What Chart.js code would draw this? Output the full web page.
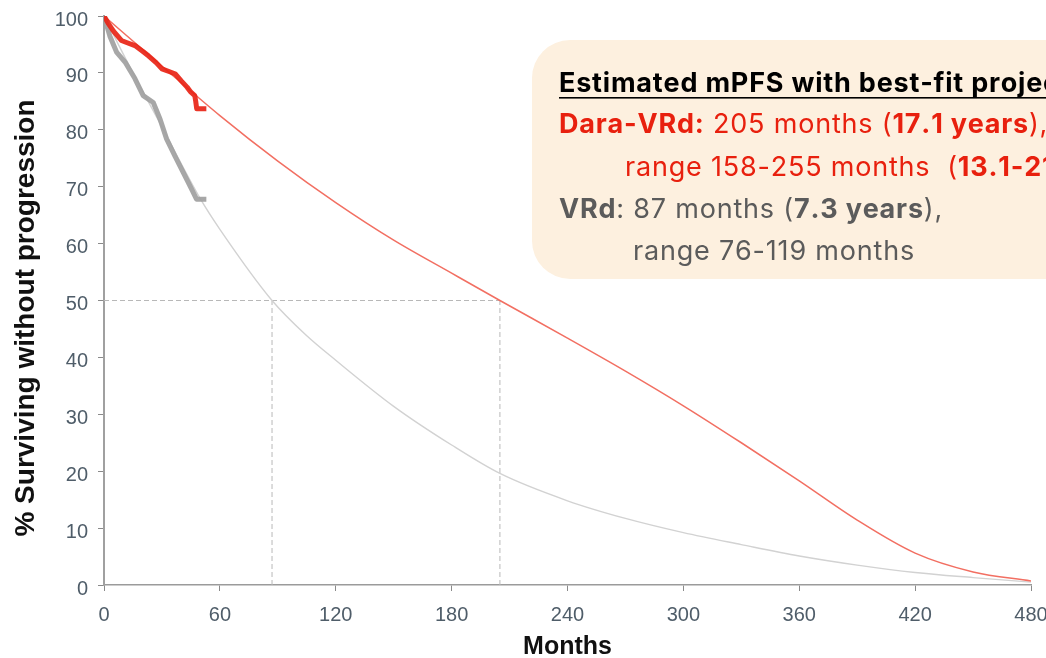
<!DOCTYPE html>
<html>
<head>
<meta charset="utf-8">
<title>Progression-free survival projection</title>
<script src="https://cdn.jsdelivr.net/npm/chart.js@4.4.1/dist/chart.umd.min.js"></script>
<style>
  html, body { margin: 0; padding: 0; background: #ffffff; }
  #wrap { width: 1046px; height: 658px; position: relative; overflow: hidden; }
</style>
</head>
<body>
<div id="wrap"><canvas id="pfs" width="1046" height="658"></canvas></div>
<script>
// Observed Kaplan-Meier estimates (months, % progression-free)
const daraKmMonths = [0, 2, 5, 9, 12, 16, 20, 23, 27, 30, 34, 37, 40, 43, 45, 47, 47.5, 48, 53];
const daraKmSurv   = [100, 98.8, 97.3, 95.7, 95.3, 94.8, 93.8, 93, 91.8, 90.7, 90.2, 89.8, 88.6, 87.5, 86.6, 86, 85, 83.7, 83.7];
const vrdKmMonths  = [0, 3, 6.6, 10.9, 16, 20.3, 25.5, 29, 32.4, 36.7, 41, 45.3, 47.9, 53];
const vrdKmSurv    = [100, 96.5, 93.6, 91.9, 89, 86, 84.8, 81.9, 78.4, 75.4, 72.5, 69.6, 67.8, 67.8];

// Best-fit parametric projections
const daraFitMonths = [0, 30, 60, 90, 120, 150, 180, 205, 240, 270, 300, 330, 360, 390, 420, 450, 480];
const daraFitSurv   = [100, 91.2, 82.5, 74.5, 67.2, 60.6, 54.8, 50, 43.4, 37.6, 31.5, 25.0, 18.3, 11.4, 5.6, 2.3, 0.7];
const vrdFitMonths  = [0, 15, 30, 50, 60, 87, 105, 120, 150, 180, 205, 240, 270, 300, 330, 360, 390, 420, 450, 480];
const vrdFitSurv    = [100, 90, 80.5, 67.8, 62.5, 50, 43.8, 39.5, 31.4, 24.6, 19.6, 14.8, 11.7, 9.2, 7.1, 5.1, 3.5, 2.2, 1.3, 0.5];

// Median PFS markers
const medianLevel = 50;
const daraMedian = 205;
const vrdMedian = 87;

// Axis ticks
const xTicks = [0, 60, 120, 180, 240, 300, 360, 420, 480];
const yTicks = [0, 10, 20, 30, 40, 50, 60, 70, 80, 90, 100];

const pairs = (xs, ys) => xs.map((x, i) => ({ x: x, y: ys[i] }));

const RED = '#e8200e';
const GREY_TXT = '#5b5b5b';

// Annotation box with the projected medians
const mpfsBox = {
  id: 'mpfsBox',
  afterDraw(chart) {
    const ctx = chart.ctx;
    ctx.save();
    // rounded panel
    const x0 = 532, y0 = 40, x1 = 1100, y1 = 279, r = 38;
    ctx.fillStyle = '#fdf0df';
    ctx.beginPath();
    ctx.moveTo(x0 + r, y0);
    ctx.lineTo(x1, y0);
    ctx.lineTo(x1, y1);
    ctx.lineTo(x0 + r, y1);
    ctx.arcTo(x0, y1, x0, y1 - r, r);
    ctx.lineTo(x0, y0 + r);
    ctx.arcTo(x0, y0, x0 + r, y0, r);
    ctx.closePath();
    ctx.fill();

    const family = 'Inter, "Open Sans", sans-serif';
    const size = 27;
    const spacing = 0.8;
    ctx.textBaseline = 'alphabetic';
    ctx.textAlign = 'left';
    const runs = (x, y, color, parts) => {
      ctx.fillStyle = color;
      let cx = x;
      parts.forEach(p => {
        ctx.font = (p[1] ? '700 ' : '400 ') + size + 'px ' + family;
        let w = 0;
        for (const ch of p[0]) {
          ctx.fillText(ch, cx + w, y);
          w += ctx.measureText(ch).width + spacing;
        }
        cx += w;
      });
      return cx;
    };
    const endX = runs(559, 92, '#000000', [['Estimated mPFS with best-fit projections', true]]);
    ctx.fillStyle = '#000000';
    ctx.fillRect(559, 97, endX - 559, 1.6);
    runs(559, 133, RED, [['Dara-VRd:', true], [' 205 months (', false], ['17.1 years', true], ['),', false]]);
    runs(625, 176, RED, [['range 158-255 months  (', false], ['13.1-21.3 years', true], [')', false]]);
    runs(559, 218, GREY_TXT, [['VRd', true], [': 87 months (', false], ['7.3 years', true], ['),', false]]);
    runs(633, 260, GREY_TXT, [['range 76-119 months', false]]);

    // vertical axis title
    ctx.translate(26, 318);
    ctx.rotate(-Math.PI / 2);
    ctx.textAlign = 'center';
    ctx.textBaseline = 'middle';
    ctx.fillStyle = '#111111';
    ctx.font = '700 28px "Liberation Sans", Arial, sans-serif';
    ctx.fillText('% Surviving without progression', 0, 0);
    ctx.restore();
  }
};

const tickFont = { family: '"Liberation Sans", Arial, sans-serif', size: 20 };

new Chart(document.getElementById('pfs'), {
  type: 'line',
  data: {
    datasets: [
      { label: 'Dara-VRd (observed)', data: pairs(daraKmMonths, daraKmSurv),
        borderColor: 'rgba(232,36,22,0.92)', borderWidth: 5, pointRadius: 0, tension: 0 },
      { label: 'VRd (observed)', data: pairs(vrdKmMonths, vrdKmSurv),
        borderColor: 'rgba(160,160,160,0.92)', borderWidth: 5, pointRadius: 0, tension: 0 },
      { label: 'Dara-VRd (projected)', data: pairs(daraFitMonths, daraFitSurv),
        borderColor: '#f26f62', borderWidth: 1.5, pointRadius: 0, cubicInterpolationMode: 'monotone' },
      { label: 'VRd (projected)', data: pairs(vrdFitMonths, vrdFitSurv),
        borderColor: '#d2d2d2', borderWidth: 1.4, pointRadius: 0, cubicInterpolationMode: 'monotone' },
      { label: 'median level', data: [{ x: 0, y: medianLevel }, { x: daraMedian, y: medianLevel }],
        borderColor: '#b8b8b8', borderWidth: 1, borderDash: [5, 3], pointRadius: 0 },
      { label: 'VRd median', data: [{ x: vrdMedian, y: 0 }, { x: vrdMedian, y: medianLevel }],
        borderColor: '#b8b8b8', borderWidth: 1, borderDash: [5, 3], pointRadius: 0 },
      { label: 'Dara-VRd median', data: [{ x: daraMedian, y: 0 }, { x: daraMedian, y: medianLevel }],
        borderColor: '#b8b8b8', borderWidth: 1, borderDash: [5, 3], pointRadius: 0 }
    ]
  },
  options: {
    responsive: false,
    animation: false,
    devicePixelRatio: 1,
    layout: { padding: { top: 16, right: 15, left: 0, bottom: 0 } },
    plugins: { legend: { display: false }, tooltip: { enabled: false } },
    elements: { line: { fill: false, borderCapStyle: 'butt', borderJoinStyle: 'round' } },
    scales: {
      x: {
        type: 'linear', min: 0, max: 480,
        afterBuildTicks: s => { s.ticks = xTicks.map(v => ({ value: v })); },
        afterFit: s => { s.height = 73; s.paddingRight = 0; s.paddingLeft = 0; },
        ticks: { font: tickFont, color: '#4f5d69', padding: 12, maxRotation: 0 },
        grid: { drawOnChartArea: false, drawTicks: true, tickLength: 6, color: '#8a8a8a', lineWidth: 1 },
        border: { color: '#9b9b9b', width: 1.5 },
        title: { display: true, text: 'Months', color: '#111111',
          font: { family: '"Liberation Sans", Arial, sans-serif', size: 25, weight: 'bold', lineHeight: 1 },
          padding: { top: 0, bottom: -2 } }
      },
      y: {
        type: 'linear', min: 0, max: 100,
        afterBuildTicks: s => { s.ticks = yTicks.map(v => ({ value: v })); },
        afterFit: s => { s.width = 104; s.paddingTop = 0; s.paddingBottom = 0; },
        ticks: { font: tickFont, color: '#4f5d69', padding: 10, labelOffset: 4 },
        grid: { drawOnChartArea: false, drawTicks: true, tickLength: 6, color: '#8a8a8a', lineWidth: 1 },
        border: { color: '#a0a0a0', width: 2 }
      }
    }
  },
  plugins: [mpfsBox]
});
</script>
</body>
</html>
